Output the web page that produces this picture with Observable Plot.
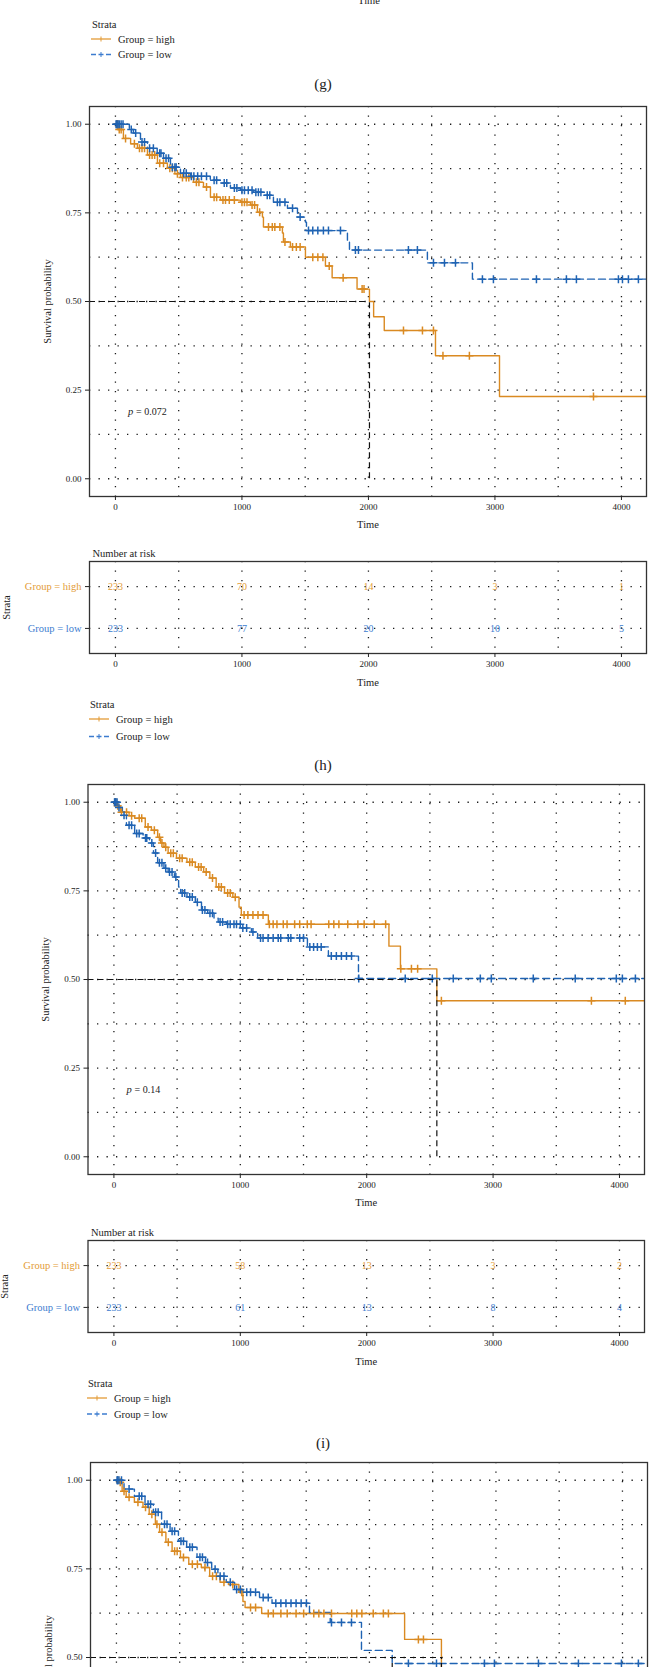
<!DOCTYPE html>
<html>
<head>
<meta charset="utf-8">
<script src="https://cdn.jsdelivr.net/npm/d3@7"></script>
<script src="https://cdn.jsdelivr.net/npm/@observablehq/plot@0.6"></script>
<style>
html,body{margin:0;padding:0;background:#fff;}
body{width:654px;height:1667px;overflow:hidden;position:relative;font-family:"Liberation Serif",serif;color:#222;}
.pl{position:absolute;left:0;}
.lab{position:absolute;transform:translate(-50%,-50%);white-space:nowrap;line-height:1;}
</style>
</head>
<body>
<script>
// ---------- shared axis data ----------
const timeTicks = [0, 1000, 2000, 3000, 4000];
const gridTimes = [0, 500, 1000, 1500, 2000, 2500, 3000, 3500, 4000];
const survTicks = [0, 0.25, 0.5, 0.75, 1];
const gridSurv = [0, 0.125, 0.25, 0.375, 0.5, 0.625, 0.75, 0.875, 1];
const groupLabels = ["Group = high", "Group = low"];

// ---------- panel (h) ----------
const hHighTime = [0, 20, 63, 120, 174, 253, 332, 411, 470, 514, 617, 696, 751, 830, 988, 1067, 1122, 1162, 1170, 1320, 1328, 1383, 1502, 1660, 1713, 1910, 2008, 2041, 2125, 2530, 3036, 4195];
const hHighSurv = [1.0, 0.985, 0.96, 0.945, 0.932, 0.913, 0.89, 0.876, 0.86, 0.85, 0.836, 0.823, 0.794, 0.786, 0.78, 0.772, 0.752, 0.738, 0.71, 0.693, 0.668, 0.654, 0.625, 0.60, 0.567, 0.535, 0.50, 0.457, 0.418, 0.347, 0.232, 0.232];
const hLowTime = [0, 110, 142, 198, 253, 330, 380, 435, 514, 593, 750, 830, 909, 988, 1091, 1170, 1249, 1360, 1439, 1502, 1510, 1834, 1850, 2466, 2822, 4195];
const hLowSurv = [1.0, 0.985, 0.975, 0.95, 0.932, 0.918, 0.904, 0.879, 0.862, 0.853, 0.842, 0.834, 0.82, 0.814, 0.808, 0.80, 0.78, 0.763, 0.738, 0.724, 0.70, 0.673, 0.645, 0.609, 0.563, 0.563];
const hHighCens = [10, 18, 30, 45, 80, 150, 190, 210, 230, 270, 290, 310, 350, 380, 430, 450, 490, 530, 560, 580, 640, 660, 720, 780, 800, 850, 870, 900, 940, 1000, 1020, 1040, 1080, 1100, 1140, 1210, 1240, 1260, 1300, 1340, 1400, 1430, 1460, 1560, 1600, 1640, 1690, 1800, 1950, 1965, 2277, 2427, 2514, 2589, 2798, 3779];
const hLowCens = [5, 12, 20, 30, 45, 60, 125, 160, 210, 230, 270, 300, 350, 360, 400, 420, 450, 470, 480, 540, 560, 600, 620, 650, 680, 720, 780, 800, 860, 880, 940, 960, 1000, 1020, 1050, 1080, 1110, 1130, 1150, 1200, 1220, 1280, 1300, 1340, 1400, 1460, 1526, 1560, 1600, 1644, 1684, 1779, 1897, 1921, 2316, 2387, 2514, 2601, 2688, 2901, 2988, 3328, 3565, 3644, 3976, 4008, 4055, 4134];
const hMedians = [2008];
const hPval = "0.072";
const hRiskHigh = [233, 70, 14, 3, 1];
const hRiskLow = [233, 77, 20, 10, 5];

// ---------- panel (i) ----------
const iHighTime = [0, 20, 51, 120, 164, 248, 297, 346, 370, 396, 429, 495, 578, 644, 710, 759, 809, 875, 941, 990, 1008, 1222, 2176, 2267, 2555, 4195];
const iHighSurv = [1.0, 0.99, 0.972, 0.962, 0.955, 0.93, 0.921, 0.901, 0.885, 0.873, 0.856, 0.842, 0.831, 0.817, 0.803, 0.786, 0.761, 0.744, 0.732, 0.704, 0.682, 0.656, 0.594, 0.53, 0.44, 0.44];
const iLowTime = [0, 30, 67, 99, 164, 231, 281, 313, 346, 396, 429, 479, 512, 528, 578, 644, 693, 742, 792, 825, 891, 1008, 1088, 1137, 1531, 1697, 1935, 4195];
const iLowSurv = [1.0, 0.985, 0.963, 0.935, 0.912, 0.899, 0.885, 0.857, 0.829, 0.814, 0.803, 0.789, 0.761, 0.744, 0.733, 0.718, 0.696, 0.687, 0.673, 0.662, 0.656, 0.645, 0.634, 0.617, 0.592, 0.566, 0.503, 0.503];
const iHighCens = [8, 15, 30, 60, 100, 140, 200, 220, 270, 320, 360, 380, 410, 450, 470, 520, 540, 600, 620, 670, 690, 730, 780, 830, 850, 900, 920, 960, 1030, 1060, 1100, 1140, 1180, 1230, 1260, 1290, 1340, 1370, 1430, 1470, 1530, 1560, 1700, 1740, 1780, 1850, 1930, 1980, 2060, 2150, 2270, 2354, 2403, 2591, 3778, 4046];
const iLowCens = [5, 10, 15, 25, 40, 80, 120, 140, 180, 200, 250, 260, 300, 330, 360, 380, 410, 440, 460, 490, 540, 560, 600, 620, 660, 700, 720, 760, 780, 840, 860, 900, 920, 950, 970, 1000, 1020, 1050, 1100, 1160, 1180, 1220, 1260, 1300, 1320, 1380, 1400, 1470, 1500, 1550, 1580, 1610, 1640, 1720, 1760, 1800, 1840, 1880, 1937, 2305, 2519, 2685, 2899, 2986, 3318, 3650, 3975, 4023, 4126];
const iMedians = [2555];
const iPval = "0.14";
const iRiskHigh = [233, 58, 13, 3, 2];
const iRiskLow = [233, 61, 13, 8, 4];

// ---------- panel (j), only the top is visible ----------
const jHighTime = [0, 20, 45, 77, 142, 210, 259, 308, 341, 391, 440, 506, 572, 671, 737, 819, 885, 968, 1000, 1017, 1148, 2278, 2569, 4195];
const jHighSurv = [1.0, 0.994, 0.969, 0.952, 0.938, 0.924, 0.904, 0.876, 0.853, 0.825, 0.80, 0.782, 0.763, 0.754, 0.729, 0.712, 0.706, 0.684, 0.658, 0.641, 0.624, 0.551, 0.40, 0.40];
const jLowTime = [0, 60, 142, 226, 292, 357, 424, 490, 555, 637, 704, 753, 802, 868, 934, 1000, 1131, 1230, 1526, 1690, 1937, 2180, 4195];
const jLowSurv = [1.0, 0.975, 0.955, 0.932, 0.91, 0.876, 0.856, 0.828, 0.811, 0.783, 0.768, 0.749, 0.729, 0.712, 0.692, 0.684, 0.669, 0.653, 0.627, 0.599, 0.52, 0.483, 0.483];
const jHighCens = [10, 30, 60, 100, 170, 230, 280, 320, 360, 410, 460, 480, 530, 600, 640, 700, 760, 790, 850, 920, 990, 1060, 1100, 1200, 1240, 1300, 1350, 1420, 1480, 1560, 1600, 1640, 1700, 1860, 1900, 1940, 2030, 2110, 2150, 2387, 2427];
const jLowCens = [5, 10, 20, 40, 100, 180, 200, 250, 270, 310, 330, 380, 400, 440, 460, 510, 530, 580, 600, 660, 680, 720, 780, 820, 850, 900, 950, 980, 1030, 1060, 1100, 1160, 1200, 1260, 1300, 1340, 1380, 1420, 1460, 1502, 1700, 1779, 1858, 2308, 2530, 2909, 2988, 3336, 3652, 3992, 4126];
const jMedians = [2180, 2569];

// ---------- styling ----------
const ORANGE = "#DA8A22", BLUE = "#1F63B3";
const ORANGE_T = "#E39B36", BLUE_T = "#3C7CCF";
const FONT = "Liberation Serif";
const X_DOMAIN = [-205, 4198];
const Y_DOMAIN = [-0.05, 1.05];
const FRAME_H = 390;
const PX_PER_UNIT = FRAME_H / (Y_DOMAIN[1] - Y_DOMAIN[0]);
const W = 654, PAGE_H = 1667;

// censor mark: a "+" whose half-arm equals the dot radius
const censorPlus = {
  draw(context, size) {
    const r = Math.sqrt(size / Math.PI);
    context.moveTo(-r, 0); context.lineTo(r, 0);
    context.moveTo(0, -r); context.lineTo(0, r);
  }
};

function stepValue(times, surv, t) {
  let s = surv[0];
  for (let i = 0; i < times.length; i++) { if (times[i] <= t) s = surv[i]; else break; }
  return s;
}
const dotted = {stroke: "#1a1a1a", strokeWidth: 1.3, strokeDasharray: "1.3,8.2"};
const baseStyle = {fontFamily: FONT, fontSize: "9px", color: "#222", background: "transparent"};

function place(el, top) {
  el.classList.add("pl");
  el.style.top = top + "px";
  document.body.appendChild(el);
}

function kmPanel(c) {
  const mt = 12;
  // a panel that runs past the page bottom is cut at the page edge
  const fh = c.cut ? (PAGE_H + 2 - c.frameTop) : FRAME_H;
  const mb = c.cut ? 0 : 40;
  const yDomain = c.cut ? [Y_DOMAIN[1] - fh / PX_PER_UNIT, Y_DOMAIN[1]] : Y_DOMAIN;
  const hi = c.hiT.map((t, i) => ({t, s: c.hiS[i]}));
  const lo = c.loT.map((t, i) => ({t, s: c.loS[i]}));
  const hiC = c.hiC.map(t => ({t, s: stepValue(c.hiT, c.hiS, t)})).filter(d => d.s >= yDomain[0]);
  const loC = c.loC.map(t => ({t, s: stepValue(c.loT, c.loS, t)})).filter(d => d.s >= yDomain[0]);
  const medH = [{x1: X_DOMAIN[0], x2: d3.max(c.medians), y: 0.5}];
  const medV = c.medians.map(m => ({x: m, y1: Math.max(0, yDomain[0]), y2: 0.5}));
  const yTicks = survTicks.filter(v => v >= yDomain[0]);
  const yMid = (Y_DOMAIN[0] + Y_DOMAIN[1]) / 2;
  const marks = [
    Plot.ruleX(gridTimes, dotted),
    Plot.ruleY(gridSurv.filter(v => v >= yDomain[0]), dotted),
    Plot.line(hi, {x: "t", y: "s", curve: "step-after", stroke: ORANGE, strokeWidth: 1.4, clip: true}),
    Plot.line(lo, {x: "t", y: "s", curve: "step-after", stroke: BLUE, strokeWidth: 1.4, strokeDasharray: "7,4", clip: true}),
    Plot.dot(hiC, {x: "t", y: "s", symbol: censorPlus, r: 4, fill: "none", stroke: ORANGE, strokeWidth: 1.5}),
    Plot.dot(loC, {x: "t", y: "s", symbol: censorPlus, r: 4, fill: "none", stroke: BLUE, strokeWidth: 1.5}),
    Plot.ruleY(medH, {y: "y", x1: "x1", x2: "x2", stroke: "#111", strokeWidth: 1.2, strokeDasharray: "6,4"}),
    Plot.ruleX(medV, {x: "x", y1: "y1", y2: "y2", stroke: "#111", strokeWidth: 1.2, strokeDasharray: "6,4"}),
    Plot.frame({stroke: "#333", strokeWidth: 1.3}),
    Plot.axisY({ticks: yTicks, tickSize: 4, tickPadding: 4, label: null, tickFormat: d3.format(".2f")}),
    Plot.text(["Survival probability"], {x: () => X_DOMAIN[0], y: () => yMid, dx: -42, rotate: -90, fontSize: 10.5, textAnchor: "middle", lineAnchor: "middle"})
  ];
  if (!c.cut) {
    marks.push(Plot.axisX({ticks: timeTicks, tickSize: 4, tickPadding: 3, label: null, tickFormat: d => String(d)}));
    marks.push(Plot.text(["Time"], {frameAnchor: "bottom", dy: 28, fontSize: 10.5, textAnchor: "middle", lineAnchor: "middle"}));
  }
  if (c.pval) {
    marks.push(Plot.text(["p"], {x: () => 100, y: () => 0.19, fontStyle: "italic", fontSize: 10.5, textAnchor: "start", lineAnchor: "middle"}));
    marks.push(Plot.text(["= " + c.pval], {x: () => 100, y: () => 0.19, dx: 8, fontSize: 10, textAnchor: "start", lineAnchor: "middle"}));
  }
  const svg = Plot.plot({
    width: W, height: mt + fh + mb,
    marginTop: mt, marginBottom: mb, marginLeft: c.left, marginRight: W - c.right,
    x: {domain: X_DOMAIN}, y: {domain: yDomain},
    style: baseStyle,
    marks
  });
  place(svg, c.frameTop - mt);
}

function riskPanel(c) {
  const mt = 20, fh = 92, mb = 40;
  const hiRows = timeTicks.map((t, i) => ({t, n: c.hi[i]}));
  const loRows = timeTicks.map((t, i) => ({t, n: c.lo[i]}));
  const svg = Plot.plot({
    width: W, height: mt + fh + mb,
    marginTop: mt, marginBottom: mb, marginLeft: c.left, marginRight: W - c.right,
    x: {domain: X_DOMAIN}, y: {domain: [0.4, 2.6]},
    style: baseStyle,
    marks: [
      Plot.ruleX(gridTimes, dotted),
      Plot.ruleY([1, 2], dotted),
      Plot.text(hiRows, {x: "t", y: () => 2, text: d => String(d.n), fill: ORANGE_T, fontSize: 10}),
      Plot.text(loRows, {x: "t", y: () => 1, text: d => String(d.n), fill: BLUE_T, fontSize: 10}),
      Plot.frame({stroke: "#333", strokeWidth: 1.3}),
      Plot.axisX({ticks: timeTicks, tickSize: 4, tickPadding: 3, label: null, tickFormat: d => String(d)}),
      Plot.axisY({ticks: [1, 2], tickSize: 4, label: null, tickFormat: () => ""}),
      Plot.text([groupLabels[0]], {x: () => X_DOMAIN[0], y: () => 2, dx: -8, textAnchor: "end", fill: ORANGE_T, fontSize: 10.5}),
      Plot.text([groupLabels[1]], {x: () => X_DOMAIN[0], y: () => 1, dx: -8, textAnchor: "end", fill: BLUE_T, fontSize: 10.5}),
      Plot.text(["Number at risk"], {frameAnchor: "top-left", dx: 3, dy: -8, textAnchor: "start", lineAnchor: "middle", fontSize: 10.5}),
      Plot.text(["Strata"], {frameAnchor: "left", dx: -83, rotate: -90, textAnchor: "middle", lineAnchor: "middle", fontSize: 10.5}),
      Plot.text(["Time"], {frameAnchor: "bottom", dy: 29, textAnchor: "middle", lineAnchor: "middle", fontSize: 10.5})
    ]
  });
  place(svg, c.frameTop - mt);
}

function legend(strataY, x0, gap1, gap2) {
  const top = strataY - 10;
  const svg = d3.create("svg").attr("width", 220).attr("height", 50)
    .style("position", "absolute").style("left", "0px").style("top", top + "px")
    .style("font-family", FONT).style("font-size", "10.5px");
  svg.append("text").attr("x", x0 + 1).attr("y", 10).attr("dy", "0.35em").attr("fill", "#222").text("Strata");
  const rows = [
    {y: 10 + gap1, color: ORANGE_T, dash: null, label: groupLabels[0]},
    {y: 10 + gap2, color: BLUE_T, dash: "5,2.5", label: groupLabels[1]}
  ];
  for (const r of rows) {
    svg.append("line").attr("x1", x0).attr("x2", x0 + 20).attr("y1", r.y).attr("y2", r.y)
      .attr("stroke", r.color).attr("stroke-width", 1.3).attr("stroke-dasharray", r.dash);
    svg.append("line").attr("x1", x0 + 10).attr("x2", x0 + 10).attr("y1", r.y - 2.5).attr("y2", r.y + 2.5)
      .attr("stroke", r.color).attr("stroke-width", 1);
    svg.append("text").attr("x", x0 + 27).attr("y", r.y).attr("dy", "0.35em").attr("fill", "#222").text(r.label);
  }
  document.body.appendChild(svg.node());
}

function label(text, x, y, size) {
  const d = document.createElement("div");
  d.className = "lab";
  d.style.left = x + "px"; d.style.top = y + "px"; d.style.fontSize = size + "px";
  d.textContent = text;
  document.body.appendChild(d);
}

// top remnant of panel (g)
label("Time", 369, 1, 10.5);
legend(24, 91, 15, 30.5);
label("(g)", 323, 84, 15);

// panel (h)
kmPanel({hiT: hHighTime, hiS: hHighSurv, loT: hLowTime, loS: hLowSurv, hiC: hHighCens, loC: hLowCens,
  medians: hMedians, pval: hPval, left: 89, right: 646, frameTop: 106});
riskPanel({hi: hRiskHigh, lo: hRiskLow, left: 89, right: 646, frameTop: 561});
legend(704, 89, 15, 32.5);
label("(h)", 323, 765, 15);

// panel (i)
kmPanel({hiT: iHighTime, hiS: iHighSurv, loT: iLowTime, loS: iLowSurv, hiC: iHighCens, loC: iLowCens,
  medians: iMedians, pval: iPval, left: 87.5, right: 644, frameTop: 784});
riskPanel({hi: iRiskHigh, lo: iRiskLow, left: 87.5, right: 644, frameTop: 1240});
legend(1383, 87, 15, 31);
label("(i)", 323, 1443, 15);

// panel (j): cut by the page bottom
kmPanel({hiT: jHighTime, hiS: jHighSurv, loT: jLowTime, loS: jLowSurv, hiC: jHighCens, loC: jLowCens,
  medians: jMedians, pval: null, cut: true, left: 90, right: 647, frameTop: 1462});
</script>
</body>
</html>
